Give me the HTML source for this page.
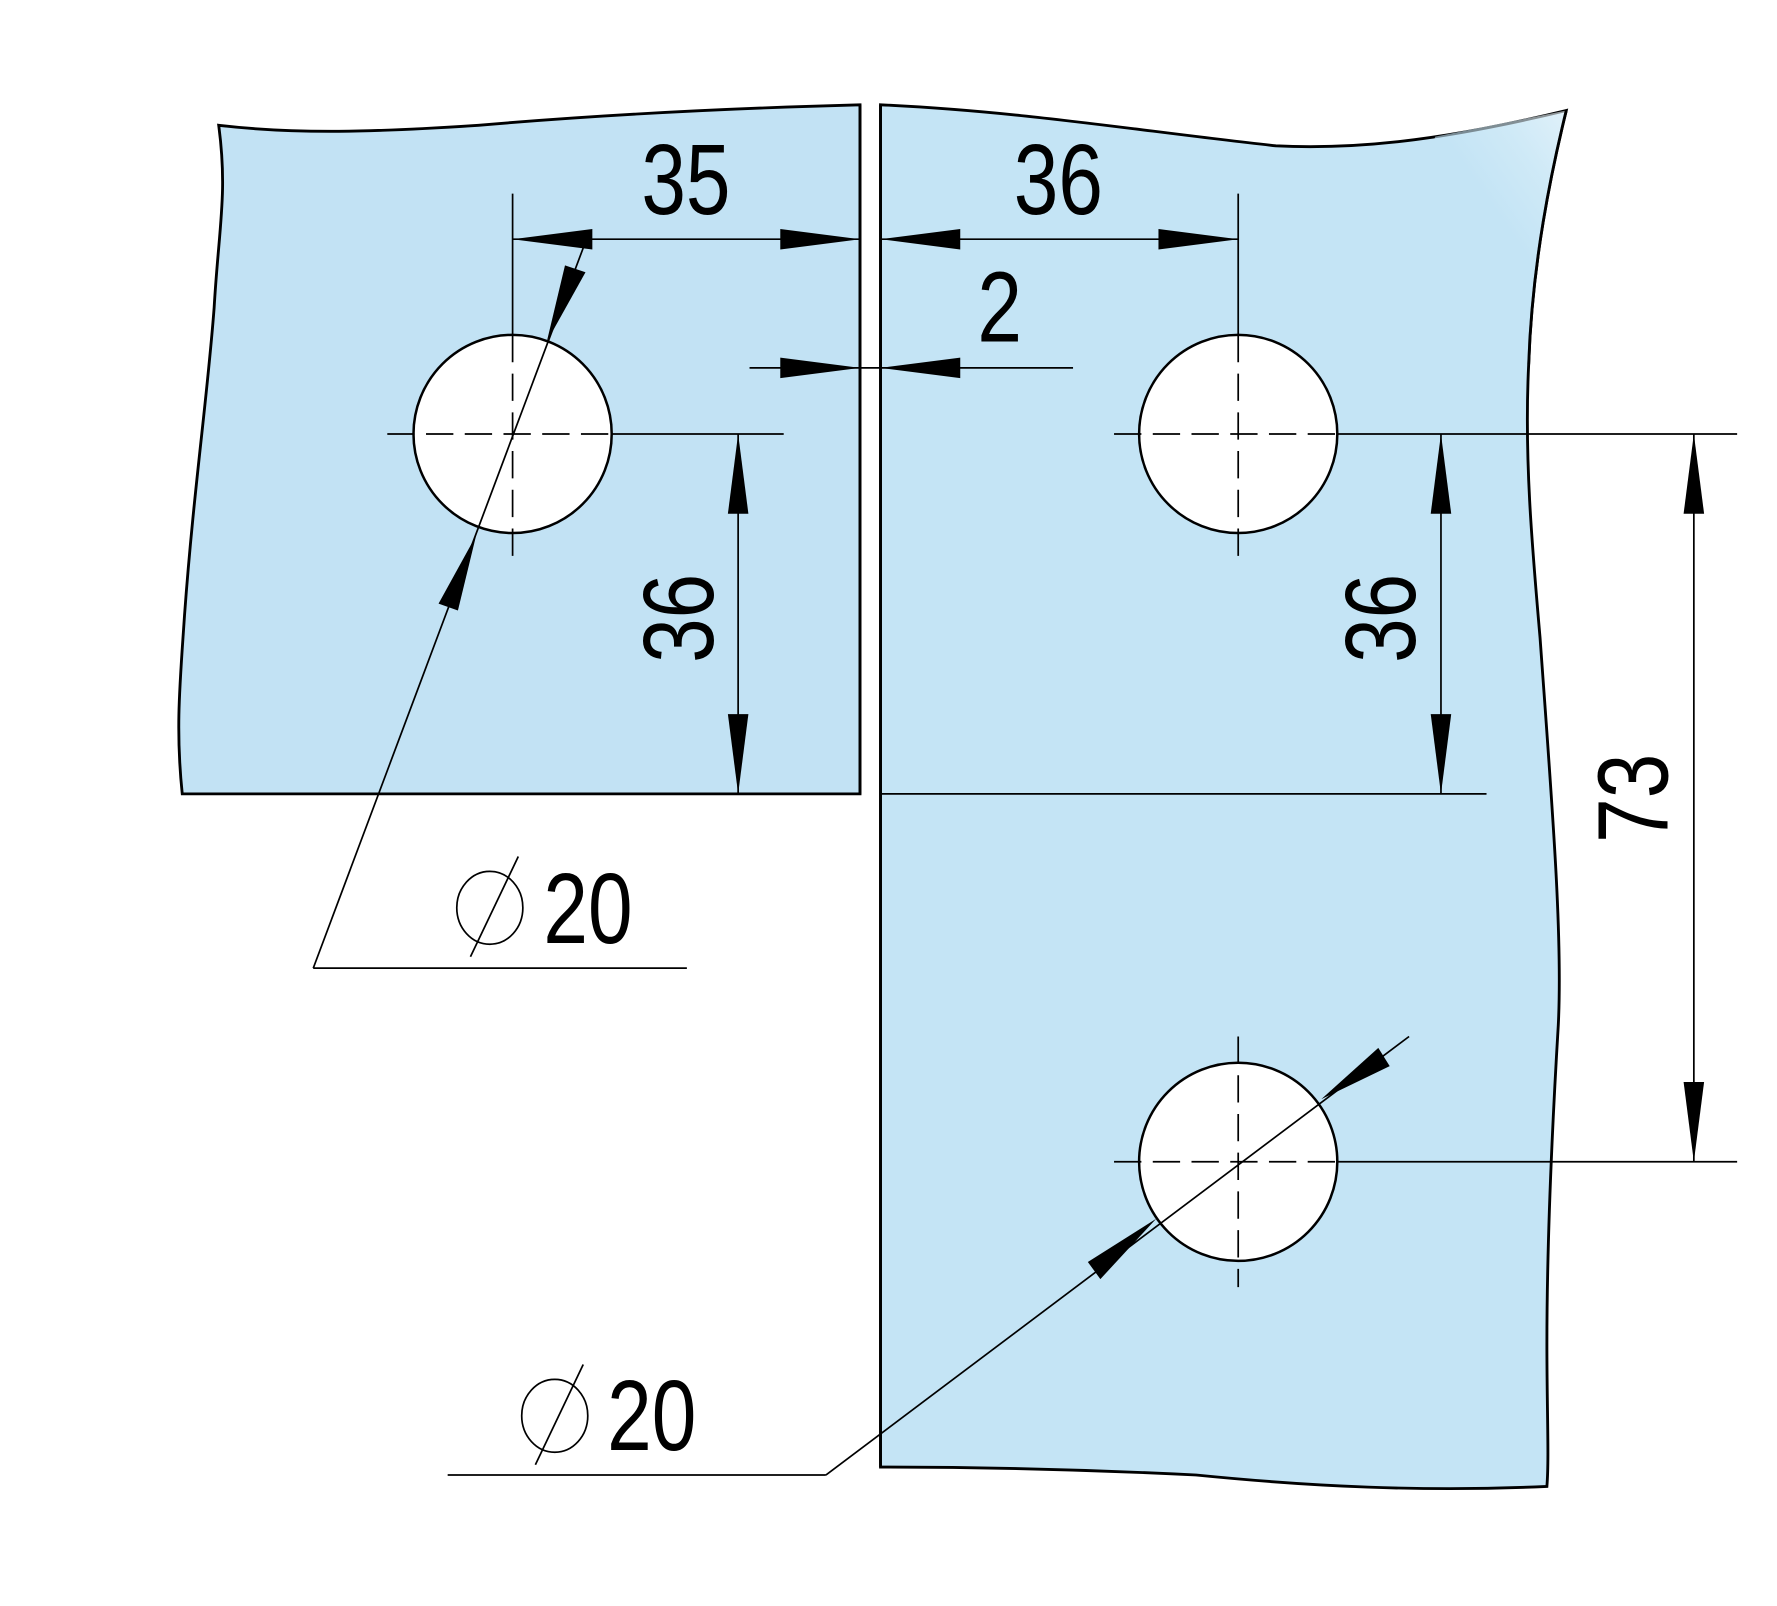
<!DOCTYPE html>
<html><head><meta charset="utf-8"><style>html,body{margin:0;padding:0;background:#fff}svg{display:block}</style></head>
<body>
<svg width="1777" height="1606" viewBox="0 0 1560 1410" preserveAspectRatio="none" xmlns="http://www.w3.org/2000/svg">
<defs>
<linearGradient id="g" x1="1" y1="0" x2="0.6" y2="0.35">
<stop offset="0" stop-color="#f2f9fd"/><stop offset="0.5" stop-color="#d6edf8"/><stop offset="1" stop-color="#c4e4f5"/></linearGradient>
</defs>
<g stroke="#000" stroke-width="2.5" fill="#c2e2f4">
<path d="M192,110 C260,118 330,116 420,110 C560,98 680,94 755,92 L755,697 L160,697 C154,640 158,600 162,540 C170,430 182,350 188,270 C192,200 200,170 192,110 Z"/>
<path d="M773,92 C900,98 1000,115 1120,128 C1200,132 1280,120 1375,97 C1362,150 1345,230 1342,320 C1338,400 1345,480 1352,560 C1362,700 1372,820 1368,900 C1362,1000 1358,1100 1358,1180 C1358,1240 1360,1280 1358,1305 C1250,1310 1150,1305 1050,1295 C950,1290 860,1288 773,1288 Z" fill="#c4e4f5"/>
</g>
<path d="M1375,97 C1362,150 1345,230 1342,320 L1200,280 L1260,120 Z" fill="url(#g)" opacity="0.6"/>
<path d="M1375,97 C1362,150 1345,230 1342,320" stroke="#000" stroke-width="2.5" fill="none"/>
<g fill="#fff" stroke="#000" stroke-width="2.2">
<circle cx="450" cy="381" r="87"/><circle cx="1087" cy="381" r="87"/><circle cx="1087" cy="1020" r="87"/>
</g>
<g stroke="#000" stroke-width="1.5" fill="none">
<g stroke-dasharray="24,10">
<line x1="340" y1="381" x2="537" y2="381"/>
<line x1="978" y1="381" x2="1174" y2="381"/>
<line x1="978" y1="1020" x2="1174" y2="1020"/>
<line x1="450" y1="294" x2="450" y2="492"/>
<line x1="1087" y1="294" x2="1087" y2="492"/>
<line x1="1087" y1="910" x2="1087" y2="1130"/>
</g>
<line x1="537" y1="381" x2="688" y2="381"/>
<line x1="1174" y1="381" x2="1525" y2="381"/>
<line x1="1174" y1="1020" x2="1525" y2="1020"/>
<line x1="450" y1="170" x2="450" y2="294"/>
<line x1="1087" y1="170" x2="1087" y2="294"/>
<line x1="450" y1="210" x2="755" y2="210"/>
<line x1="773" y1="210" x2="1087" y2="210"/>
<line x1="658" y1="323" x2="942" y2="323"/>
<line x1="648" y1="381" x2="648" y2="697"/>
<line x1="1265" y1="381" x2="1265" y2="697"/>
<line x1="1487" y1="381" x2="1487" y2="1020"/>
<line x1="773" y1="697" x2="1305" y2="697"/>
<line x1="513" y1="215" x2="275" y2="850"/>
<line x1="275" y1="850" x2="603" y2="850"/>
<line x1="1237" y1="910" x2="725" y2="1295"/>
<line x1="725" y1="1295" x2="393" y2="1295"/>
<line x1="755" y1="92" x2="755" y2="697" stroke-width="2.5"/>
<line x1="773" y1="92" x2="773" y2="1288" stroke-width="2.5"/>
</g>
<g fill="#000">
<polygon points="450,210 520,201 520,219"/><polygon points="755,210 685,201 685,219"/>
<polygon points="773,210 843,201 843,219"/><polygon points="1087,210 1017,201 1017,219"/>
<polygon points="755,323 685,314 685,332"/><polygon points="773,323 843,314 843,332"/>
<polygon points="648,381 639,451 657,451"/><polygon points="648,697 639,627 657,627"/>
<polygon points="1265,381 1256,451 1274,451"/><polygon points="1265,697 1256,627 1274,627"/>
<polygon points="1487,381 1478,451 1496,451"/><polygon points="1487,1020 1478,950 1496,950"/>
<polygon points="480,300 496,233 514,239"/>
<polygon points="418,470 385,530 402,536"/>
<polygon points="1160,965 1210,920 1220,936"/>
<polygon points="1015,1070 955,1108 966,1123"/>
</g>
<g font-family="'Liberation Sans', sans-serif" font-size="88" fill="#000">
<text transform="translate(563,188) scale(0.8,1)">35</text>
<text transform="translate(890,188) scale(0.8,1)">36</text>
<text transform="translate(858,300) scale(0.8,1)">2</text>
<text transform="translate(626,582) rotate(-90) scale(0.8,1)">36</text>
<text transform="translate(1242,582) rotate(-90) scale(0.8,1)">36</text>
<text transform="translate(1464,740) rotate(-90) scale(0.8,1)">73</text>
<text transform="translate(477,828) scale(0.8,1)">20</text>
<text transform="translate(533,1273) scale(0.8,1)">20</text>
</g>
<g stroke="#000" stroke-width="1.5" fill="none">
<ellipse cx="430" cy="797" rx="29" ry="32"/><line x1="455" y1="752" x2="413" y2="840"/>
<ellipse cx="487" cy="1243" rx="29" ry="32"/><line x1="512" y1="1198" x2="470" y2="1286"/>
</g>
</svg>
</body></html>
